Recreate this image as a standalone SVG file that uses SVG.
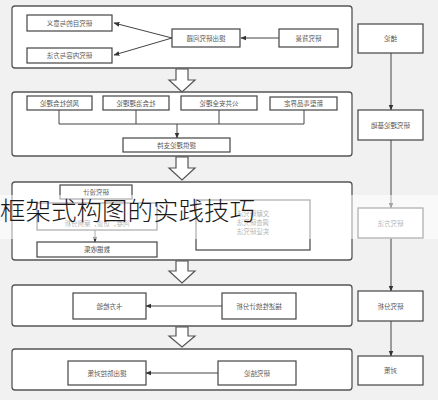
<svg xmlns="http://www.w3.org/2000/svg" width="438" height="400" viewBox="0 0 438 400">
<defs>
<marker id="ah" viewBox="0 0 10 10" refX="9" refY="5" markerWidth="6" markerHeight="6" orient="auto-start-reverse" markerUnits="userSpaceOnUse">
<path d="M0,1 L10,5 L0,9 z" fill="#333"/>
</marker>
<style>
.sec{fill:#fff;stroke:#555;stroke-width:1.3}
.box{fill:#fff;stroke:#444;stroke-width:1.2}
.t{font-family:"Noto Sans CJK SC","Noto Sans",sans-serif;font-size:6.5px;fill:#555;text-anchor:middle}
.ln{fill:none;stroke:#444;stroke-width:1}
.big{fill:#fff;stroke:#555;stroke-width:1.2}
</style>
</defs>
<rect x="0" y="0" width="438" height="400" fill="#f1f1f1"/>

<g id="sections">
<rect class="sec" x="12" y="6" width="340" height="62" rx="3"/>
<rect class="sec" x="12" y="92" width="340" height="64" rx="3"/>
<rect class="sec" x="12" y="182" width="340" height="78" rx="3"/>
<rect class="sec" x="12" y="285" width="340" height="41" rx="3"/>
<rect class="sec" x="12" y="349" width="340" height="41" rx="3"/>
</g>

<g id="bigarrows">
<path class="big" d="M176,69 h12 v11 h7 l-13,12 l-13,-12 h7 z"/>
<path class="big" d="M176,157 h12 v11 h7 l-13,12 l-13,-12 h7 z"/>
<path class="big" d="M176,261 h12 v10 h7 l-13,12 l-13,-12 h7 z"/>
<path class="big" d="M176,327 h12 v9 h7 l-13,11 l-13,-11 h7 z"/>
</g>

<g id="connectors">
<line class="ln" x1="172" y1="38" x2="114" y2="23" marker-end="url(#ah)"/>
<line class="ln" x1="172" y1="38" x2="114" y2="55" marker-end="url(#ah)"/>
<line class="ln" x1="279" y1="38" x2="241" y2="38" marker-end="url(#ah)"/>
<path class="ln" d="M59,110 V124 H304 V110 M136,110 V124 M219,110 V124"/>
<line class="ln" x1="177" y1="124" x2="177" y2="138" marker-end="url(#ah)"/>
<line class="ln" x1="95" y1="230" x2="95" y2="242" marker-end="url(#ah)"/>
<line class="ln" x1="222" y1="306" x2="146" y2="306" marker-end="url(#ah)"/>
<line class="ln" x1="218" y1="373" x2="146" y2="373" marker-end="url(#ah)"/>
<line class="ln" x1="391" y1="53" x2="391" y2="110" marker-end="url(#ah)"/>
<line class="ln" x1="391" y1="140" x2="391" y2="208" marker-end="url(#ah)"/>
<line class="ln" x1="391" y1="238" x2="391" y2="291" marker-end="url(#ah)"/>
<line class="ln" x1="391" y1="321" x2="391" y2="356" marker-end="url(#ah)"/>
</g>

<g id="n1"><rect class="box" x="27" y="15" width="85" height="16"/><text class="t" x="-69.5" y="25.5" transform="scale(-1,1)">研究目的与意义</text></g>
<g id="n2"><rect class="box" x="27" y="48" width="85" height="15"/><text class="t" x="-69.5" y="58" transform="scale(-1,1)">研究内容与方法</text></g>
<g id="n3"><rect class="box" x="172" y="29" width="68" height="18"/><text class="t" x="-206" y="40.5" transform="scale(-1,1)">提出研究问题</text></g>
<g id="n4"><rect class="box" x="279" y="29" width="59" height="18"/><text class="t" x="-308.5" y="40.5" transform="scale(-1,1)">研究背景</text></g>

<g id="n5"><rect class="box" x="27" y="96" width="65" height="14"/><text class="t" x="-59.5" y="105.5" transform="scale(-1,1)">风险社会理论</text></g>
<g id="n6"><rect class="box" x="103" y="96" width="66" height="14"/><text class="t" x="-136" y="105.5" transform="scale(-1,1)">社会治理理论</text></g>
<g id="n7"><rect class="box" x="181" y="96" width="76" height="14"/><text class="t" x="-219" y="105.5" transform="scale(-1,1)">公共安全理论</text></g>
<g id="n8"><rect class="box" x="270" y="97" width="67" height="13"/><text class="t" x="-303.5" y="106" transform="scale(-1,1)">新型毒品界定</text></g>
<g id="n9"><rect class="box" x="123" y="138" width="107" height="14"/><text class="t" x="-176.5" y="147.5" transform="scale(-1,1)">提供理论支持</text></g>

<g id="n10"><rect class="box" x="60" y="185" width="72" height="14"/><text class="t" x="-96" y="194.5" transform="scale(-1,1)">研究设计</text></g>
<g id="n11"><rect class="box" x="37" y="203" width="120" height="27"/><text class="t" x="-97" y="226" transform="scale(-1,1)">问卷，访谈，案例分析</text></g>
<g id="n12"><rect class="box" x="37" y="242" width="120" height="15"/><text class="t" x="-97" y="252" transform="scale(-1,1)">数据收集</text></g>
<g id="n13"><rect class="box" x="196" y="200" width="114" height="50"/>
<text class="t" x="-253" y="216" transform="scale(-1,1)">文献研究法</text>
<text class="t" x="-253" y="225" transform="scale(-1,1)">调查研究法</text>
<text class="t" x="-253" y="234" transform="scale(-1,1)">实证研究法</text></g>

<g id="n14"><rect class="box" x="73" y="293" width="73" height="26"/><text class="t" x="-109.5" y="308.5" transform="scale(-1,1)">卡方检验</text></g>
<g id="n15"><rect class="box" x="222" y="293" width="74" height="26"/><text class="t" x="-259" y="308.5" transform="scale(-1,1)">描述性统计分析</text></g>
<g id="n16"><rect class="box" x="68" y="361" width="78" height="24"/><text class="t" x="-107" y="375.5" transform="scale(-1,1)">提出防控对策</text></g>
<g id="n17"><rect class="box" x="218" y="361" width="78" height="24"/><text class="t" x="-257" y="375.5" transform="scale(-1,1)">研究结论</text></g>

<g id="r1"><rect class="box" x="358" y="24" width="65" height="29"/><text class="t" x="-390.5" y="41" transform="scale(-1,1)">绪论</text></g>
<g id="r2"><rect class="box" x="358" y="110" width="65" height="30"/><text class="t" x="-390.5" y="127.5" transform="scale(-1,1)">研究理论基础</text></g>
<g id="r3"><rect class="box" x="358" y="208" width="65" height="30"/><text class="t" x="-390.5" y="225.5" transform="scale(-1,1)">研究方法</text></g>
<g id="r4"><rect class="box" x="358" y="291" width="65" height="30"/><text class="t" x="-390.5" y="308.5" transform="scale(-1,1)">研究分析</text></g>
<g id="r5"><rect class="box" x="358" y="356" width="65" height="29"/><text class="t" x="-390.5" y="373" transform="scale(-1,1)">对策</text></g>

<rect x="0" y="195" width="438" height="44" fill="#fff" opacity="0.55"/>
<text x="0" y="220" font-family="'Noto Sans CJK SC',sans-serif" font-size="25.5" font-weight="300" fill="#1a1a1a">框架式构图的实践技巧</text>
</svg>
